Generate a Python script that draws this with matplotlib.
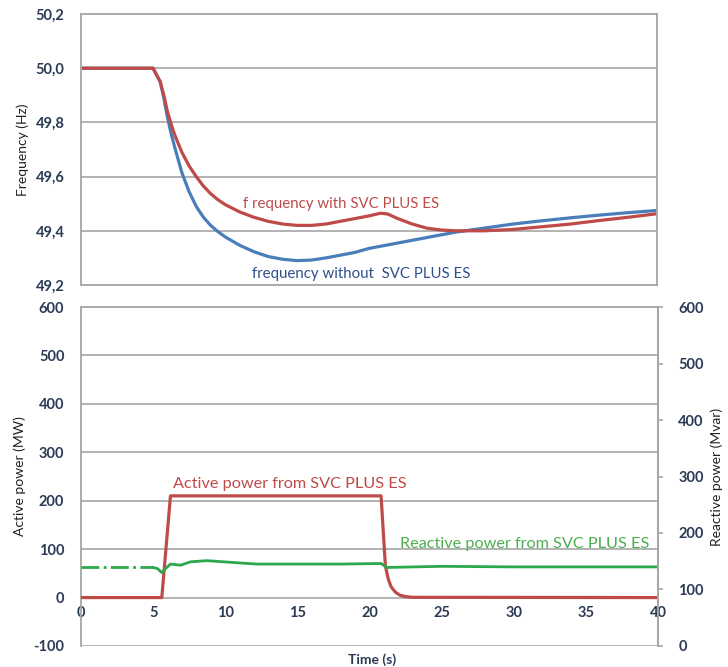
import matplotlib.pyplot as plt
from matplotlib.ticker import FuncFormatter, MultipleLocator

plt.rcParams['font.family'] = ['Lato', 'DejaVu Sans']
plt.rcParams['axes.unicode_minus'] = False

# Frequency response (Hz) with and without the SVC PLUS ES
t_freq_with = [0, 5, 5.5, 5.75, 6, 6.25, 6.5, 7, 7.5, 8, 8.5, 9, 9.5, 10, 11, 12, 13, 14,
               15, 16, 17, 18, 19, 20, 20.8, 21.3, 22, 23, 24, 25, 26, 28, 30, 32, 34,
               36, 38, 40]
freq_with = [50.0, 50.0, 49.95, 49.90, 49.84, 49.795, 49.755, 49.69, 49.64, 49.60, 49.565,
             49.537, 49.515, 49.497, 49.47, 49.45, 49.435, 49.425, 49.42, 49.42, 49.425,
             49.435, 49.445, 49.455, 49.465, 49.462, 49.445, 49.425, 49.41, 49.403,
             49.40, 49.40, 49.405, 49.415, 49.425, 49.438, 49.45, 49.463]

t_freq_without = [0, 5, 5.5, 5.75, 6, 6.25, 6.5, 7, 7.5, 8, 8.5, 9, 9.5, 10, 11, 12, 13,
                  14, 15, 16, 17, 18, 19, 20, 22, 24, 26, 28, 30, 32, 34, 36, 38, 40]
freq_without = [50.0, 50.0, 49.95, 49.89, 49.82, 49.76, 49.71, 49.615, 49.545, 49.49,
                49.45, 49.42, 49.397, 49.378, 49.347, 49.323, 49.305, 49.295, 49.29,
                49.292, 49.30, 49.31, 49.32, 49.335, 49.355, 49.375, 49.395, 49.41,
                49.425, 49.437, 49.448, 49.458, 49.467, 49.475]

# Active power (MW) injected by the SVC PLUS ES
t_active = [0, 5.6, 6.2, 20.8, 21.1, 21.3, 21.5, 21.8, 22.1, 22.5, 23, 40]
active_mw = [0, 0, 210, 210, 65, 38, 22, 11, 5, 2, 0.5, 0]

# Reactive power (Mvar) from the SVC PLUS ES
t_reactive_pre = [0, 5.0]
reactive_pre = [139, 139]
t_reactive = [5.0, 5.3, 5.6, 5.9, 6.2, 6.9, 7.6, 8.7, 9.9, 11, 12.2, 15, 18, 20.8,
              21.2, 25, 30, 35, 40]
reactive_mvar = [139, 137, 130, 138, 145, 143, 149, 151, 149, 147, 145, 145, 145, 146,
                 139, 141, 140, 140, 140]

freq_ticks = [49.2, 49.4, 49.6, 49.8, 50.0, 50.2]

RED = '#be4b48'
BLUE = '#4a7ebb'
GREEN = '#2aa84a'
GRID = '#a6a6a6'
TICK = '#2a3a55'
LABEL = '#222222'

fig = plt.figure(figsize=(7.28, 6.67), dpi=100)

# Upper panel: frequency
ax1 = fig.add_axes([0.1113, 0.5727, 0.7912, 0.4063])
ax1.plot(t_freq_without, freq_without, color=BLUE, lw=2.3)
ax1.plot(t_freq_with, freq_with, color=RED, lw=2.3)
ax1.set_xlim(0, 40)
ax1.set_ylim(49.2, 50.2)
ax1.set_yticks(freq_ticks)
ax1.yaxis.set_major_formatter(FuncFormatter(lambda v, p: f'{v:.1f}'.replace('.', ',')))
ax1.set_xticks([])
ax1.grid(axis='y', color=GRID, lw=1.2)
ax1.tick_params(axis='y', length=0, pad=12, labelsize=10.5, labelcolor=TICK)
for lbl in ax1.get_yticklabels():
    lbl.set_fontweight('bold')
for s in ax1.spines.values():
    s.set_color(GRID)
    s.set_linewidth(1.3)
ax1.set_ylabel('Frequency (Hz)', fontsize=10, color=LABEL, labelpad=5)
ax1.text(11.25, 49.5, 'f requency with SVC PLUS ES', color=RED, fontsize=10.8,
         va='center')
ax1.text(11.9, 49.24, 'frequency without  SVC PLUS ES', color='#2f4f8a', fontsize=10.8,
         va='center')

# Lower panel: active and reactive power
ax2 = fig.add_axes([0.1113, 0.0315, 0.7926, 0.5082])
ax2.plot(t_active, active_mw, color=RED, lw=2.3, zorder=3)
ax2.set_xlim(0, 40)
ax2.set_ylim(-100, 600)
ax2.yaxis.set_major_locator(MultipleLocator(100))
ax2.xaxis.set_major_locator(MultipleLocator(5))
ax2.grid(axis='y', color=GRID, lw=1.2)
ax2.spines['bottom'].set_position(('data', 0))
ax2.spines['bottom'].set_visible(False)
for s in ['left', 'right', 'top']:
    ax2.spines[s].set_color(GRID)
    ax2.spines[s].set_linewidth(1.3)
ax2.tick_params(axis='y', length=0, pad=12, labelsize=10.5, labelcolor=TICK)
ax2.tick_params(axis='x', length=0, pad=6, labelsize=10.5, labelcolor=TICK)
for lbl in ax2.get_yticklabels() + ax2.get_xticklabels():
    lbl.set_fontweight('bold')
ax2.set_ylabel('Active power (MW)', fontsize=10, color=LABEL, labelpad=5)
ax2.set_xlabel('Time (s)', fontsize=10, color=TICK, fontweight='bold')
ax2.xaxis.set_label_coords(0.505, -0.022)
ax2.text(6.4, 235, 'Active power from SVC PLUS ES', color=RED, fontsize=11.7,
         va='center')

ax3 = ax2.twinx()
ax3.plot(t_reactive_pre, reactive_pre, color=GREEN, lw=2.0, ls='-.')
ax3.plot(t_reactive, reactive_mvar, color=GREEN, lw=2.0)
ax3.set_ylim(0, 600)
ax3.yaxis.set_major_locator(MultipleLocator(100))
for s in ax3.spines.values():
    s.set_visible(False)
ax3.spines['right'].set_visible(True)
ax3.spines['right'].set_color(GRID)
ax3.spines['right'].set_linewidth(1.3)
ax3.tick_params(axis='y', length=3.6, width=1.2, color=GRID, pad=11, labelsize=10.5,
                labelcolor=TICK)
for lbl in ax3.get_yticklabels():
    lbl.set_fontweight('bold')
ax3.set_ylabel('Reactive power (Mvar)', fontsize=10, color=LABEL, labelpad=5)
ax3.text(22.1, 181, 'Reactive power from SVC PLUS ES', color='#4caf50', fontsize=11.7,
         va='center')

fig.savefig('out.png', dpi=100)
